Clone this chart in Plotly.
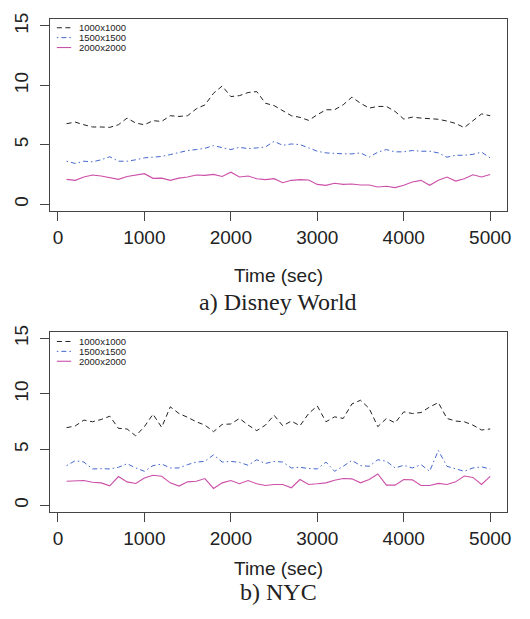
import plotly.graph_objects as go

# ---------------- data ----------------
time_sec = list(range(100, 5001, 100))
series_names = ["1000x1000", "1500x1500", "2000x2000"]

disney_1000 = [6.78, 6.91, 6.69, 6.50, 6.50, 6.47, 6.69, 7.25, 6.83, 6.69,
               7.03, 6.97, 7.45, 7.39, 7.45, 8.03, 8.36, 9.34, 9.95, 9.06,
               9.14, 9.40, 9.48, 8.50, 8.30, 7.87, 7.45, 7.31, 7.06, 7.53,
               7.95, 7.95, 8.37, 9.01, 8.50, 8.09, 8.23, 8.23, 7.81, 7.17,
               7.33, 7.25, 7.20, 7.15, 7.00, 6.80, 6.45, 7.00, 7.60, 7.45]
disney_1500 = [3.62, 3.43, 3.62, 3.57, 3.74, 4.00, 3.62, 3.62, 3.74, 3.90,
               3.96, 4.02, 4.18, 4.35, 4.52, 4.60, 4.71, 4.93, 4.79, 4.60,
               4.79, 4.68, 4.74, 4.82, 5.29, 4.96, 5.07, 5.02, 4.74, 4.46,
               4.32, 4.27, 4.24, 4.24, 4.32, 3.96, 4.38, 4.60, 4.41, 4.41,
               4.52, 4.46, 4.46, 4.32, 3.96, 4.12, 4.12, 4.20, 4.38, 3.90]
disney_2000 = [2.09, 2.01, 2.29, 2.46, 2.37, 2.23, 2.09, 2.34, 2.43, 2.57,
               2.18, 2.20, 2.01, 2.20, 2.29, 2.46, 2.43, 2.51, 2.34, 2.70,
               2.29, 2.37, 2.15, 2.07, 2.15, 1.81, 2.01, 2.07, 2.04, 1.67,
               1.59, 1.76, 1.67, 1.70, 1.62, 1.62, 1.45, 1.51, 1.40, 1.59,
               1.87, 2.01, 1.59, 2.01, 2.29, 1.95, 2.15, 2.48, 2.29, 2.51]

nyc_1000 = [6.97, 7.12, 7.65, 7.50, 7.70, 8.00, 6.91, 6.85, 6.23, 7.06,
            8.18, 7.00, 8.84, 8.24, 7.90, 7.50, 7.20, 6.61, 7.26, 7.30,
            7.80, 7.20, 6.70, 7.20, 8.09, 7.14, 7.56, 7.14, 8.24, 8.92,
            7.50, 7.94, 7.80, 9.10, 9.43, 8.70, 7.06, 7.80, 7.40, 8.39,
            8.24, 8.33, 8.83, 9.22, 7.80, 7.56, 7.50, 7.20, 6.76, 6.85]
nyc_1500 = [3.56, 4.00, 3.88, 3.26, 3.29, 3.26, 3.41, 3.73, 3.35, 3.05,
            3.56, 3.70, 3.35, 3.35, 3.65, 3.88, 3.94, 4.53, 3.88, 3.94,
            3.85, 3.59, 4.09, 3.75, 3.94, 3.88, 3.35, 3.41, 3.30, 3.26,
            3.88, 3.05, 3.50, 4.03, 3.56, 3.50, 4.09, 3.95, 3.35, 3.59,
            3.35, 3.65, 3.05, 4.92, 3.50, 3.30, 3.05, 3.35, 3.45, 3.26]
nyc_2000 = [2.16, 2.16, 2.22, 2.07, 2.01, 1.75, 2.58, 2.10, 1.96, 2.45,
            2.69, 2.60, 2.01, 1.72, 2.10, 2.16, 2.40, 1.51, 2.01, 2.22,
            1.93, 2.22, 1.93, 1.78, 1.87, 1.87, 1.57, 2.31, 1.87, 1.93,
            2.01, 2.25, 2.40, 2.37, 2.01, 2.31, 2.81, 1.81, 1.81, 2.31,
            2.28, 1.78, 1.78, 1.96, 1.87, 2.10, 2.63, 2.50, 1.87, 2.60]

x_ticks = [0, 1000, 2000, 3000, 4000, 5000]
y_ticks = [0, 5, 10, 15]
x_title = "Time (sec)"
panel_titles = ["a) Disney World", "b) NYC"]

# ---------------- style ----------------
W, H = 530, 619
colors = ["#222222", "#4466cc", "#cc4fa8"]
dashes = ["5px,3.5px", "1.5px,3px,5px,3px", "solid"]
widths = [1.0, 1.0, 1.1]
sans = "Liberation Sans, Arial, sans-serif"
serif = "Liberation Serif, Times New Roman, serif"

def px_x(p):
    return p / W

def px_y(p):
    return 1 - p / H

panels = [
    dict(data=[disney_1000, disney_1500, disney_2000], box=(50, 511, 12, 206.7),
         xt_y=271.7, title_y=298, leg_y=[21.0, 31.0, 41.0]),
    dict(data=[nyc_1000, nyc_1500, nyc_2000], box=(50, 511, 328.3, 510.7),
         xt_y=568.3, title_y=591.7, leg_y=[338.3, 348.3, 358.3]),
]

fig = go.Figure()
shapes = []
annotations = []

for i, p in enumerate(panels):
    xa = "x" if i == 0 else "x2"
    ya = "y" if i == 0 else "y2"
    for j, vals in enumerate(p["data"]):
        fig.add_trace(go.Scatter(
            x=time_sec, y=vals, mode="lines", name=series_names[j],
            xaxis=xa, yaxis=ya, showlegend=False,
            line=dict(color=colors[j], width=widths[j], dash=dashes[j]),
        ))
    l, r, t, b = p["box"]
    axis_common = dict(
        showgrid=False, zeroline=False, showline=True, mirror=True,
        linecolor="#444444", linewidth=1, ticks="outside", ticklen=9,
        tickwidth=1, tickcolor="#444444",
        tickfont=dict(family=sans, size=19, color="#222222"),
    )
    xkey = "xaxis" if i == 0 else "xaxis2"
    ykey = "yaxis" if i == 0 else "yaxis2"
    fig.update_layout(**{
        xkey: dict(axis_common, domain=[px_x(l), px_x(r)], range=[-96, 5196],
                   tickvals=x_ticks, anchor=ya, ticklabelstandoff=0),
        ykey: dict(axis_common, domain=[px_y(b), px_y(t)], range=[-0.6, 15.6],
                   tickvals=y_ticks, anchor=xa, tickangle=-90,
                   ticklabelstandoff=4),
    })
    annotations.append(dict(text=x_title, xref="paper", yref="paper",
                            x=px_x((l + r) / 2), y=px_y(p["xt_y"]),
                            xanchor="center", yanchor="middle", showarrow=False,
                            font=dict(family=sans, size=19, color="#222222")))
    annotations.append(dict(text=panel_titles[i], xref="paper", yref="paper",
                            x=px_x((l + r) / 2), y=px_y(p["title_y"]),
                            xanchor="center", yanchor="middle", showarrow=False,
                            font=dict(family=serif, size=24, color="#222222")))
    # legend (manual, small)
    for j, name in enumerate(series_names):
        yy = px_y(p["leg_y"][j])
        shapes.append(dict(type="line", xref="paper", yref="paper",
                           x0=px_x(57.3), x1=px_x(71.7), y0=yy, y1=yy,
                           line=dict(color=colors[j], width=widths[j],
                                     dash=dashes[j])))
        annotations.append(dict(text=name, xref="paper", yref="paper",
                                x=px_x(78.3), y=yy, xanchor="left",
                                yanchor="middle", showarrow=False,
                                borderpad=0,
                                font=dict(family=sans, size=9.5,
                                          color="#222222")))

fig.update_layout(
    width=W, height=H, margin=dict(l=0, r=0, t=0, b=0),
    paper_bgcolor="white", plot_bgcolor="white",
    shapes=shapes, annotations=annotations, showlegend=False,
)

fig.write_html("out.html")
